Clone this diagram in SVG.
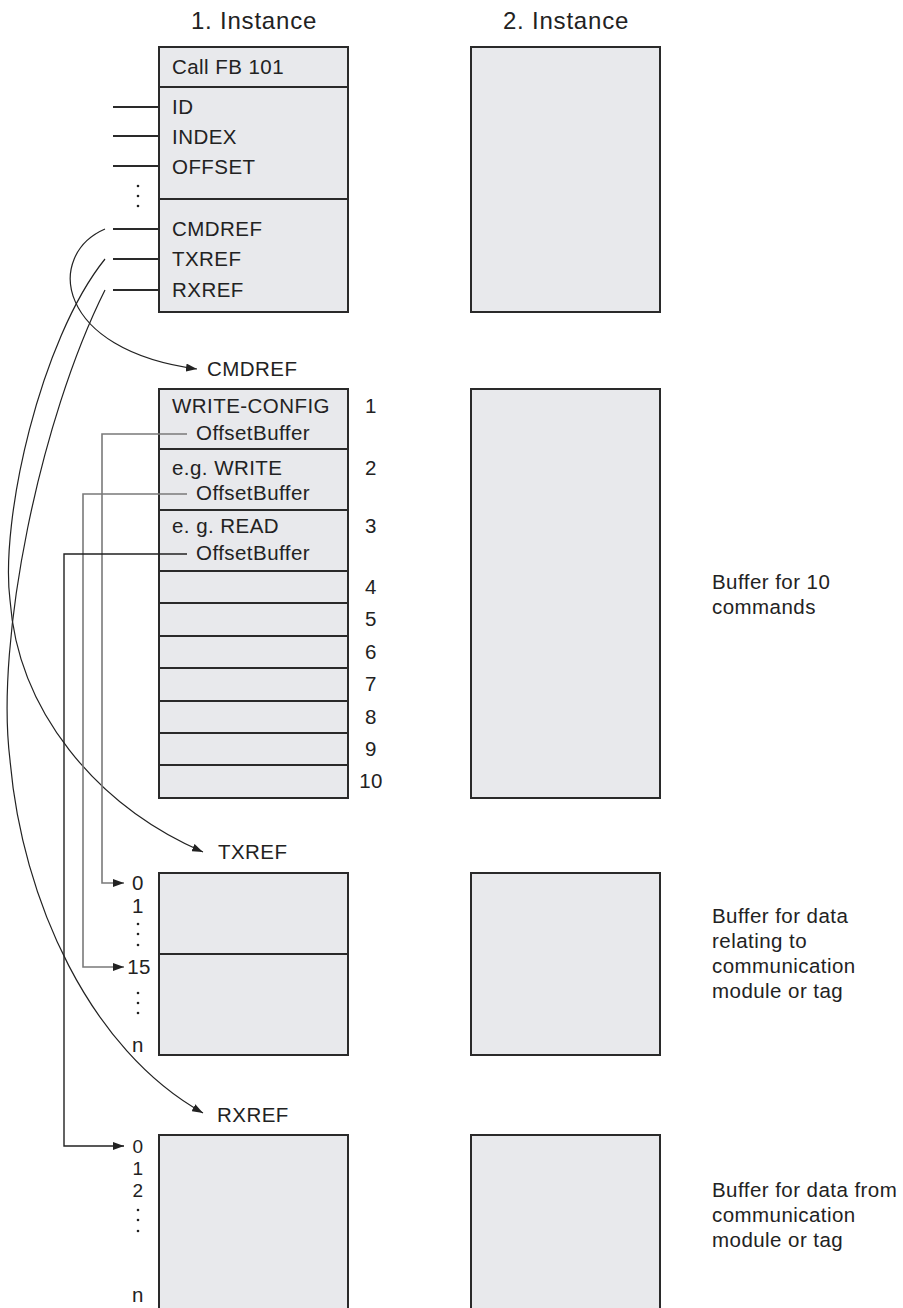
<svg xmlns="http://www.w3.org/2000/svg" width="903" height="1308" viewBox="0 0 903 1308">
<style>
text{font-family:"Liberation Sans",Arial,sans-serif;fill:#222;font-size:20.5px;letter-spacing:0.45px}
.title{font-size:24px;letter-spacing:0.8px;text-anchor:middle}
.num{text-anchor:middle}
.sm{font-size:19px}
.box{fill:#e8e9ec;stroke:#2a2a2a;stroke-width:2}
.div{stroke:#2a2a2a;stroke-width:2;fill:none}
.pin{stroke:#2a2a2a;stroke-width:2;fill:none}
.curve{stroke:#222;stroke-width:1.2;fill:none}
.lead{stroke:#7a7a7a;stroke-width:1.6;fill:none}
.leadk{stroke:#222;stroke-width:1.4;fill:none}
.dot{fill:#222}
</style>
<defs>
<marker id="ah" markerUnits="userSpaceOnUse" markerWidth="11" markerHeight="8" refX="11" refY="4" orient="auto">
<path d="M0,0 L11,4 L0,8 z" fill="#222"/>
</marker>
</defs>

<text class="title" x="254" y="29">1. Instance</text>
<text class="title" x="566" y="29">2. Instance</text>

<g id="fb-call">
<rect class="box" x="159" y="47" width="189" height="265"/>
<line class="div" x1="159" y1="87" x2="348" y2="87"/>
<line class="div" x1="159" y1="199" x2="348" y2="199"/>
<text x="172" y="74">Call FB 101</text>
<text x="172" y="114">ID</text>
<text x="172" y="144">INDEX</text>
<text x="172" y="174">OFFSET</text>
<text x="172" y="236">CMDREF</text>
<text x="172" y="266">TXREF</text>
<text x="172" y="297">RXREF</text>
<line class="pin" x1="113" y1="107" x2="159" y2="107"/>
<line class="pin" x1="113" y1="136" x2="159" y2="136"/>
<line class="pin" x1="113" y1="166" x2="159" y2="166"/>
<line class="pin" x1="113" y1="229" x2="159" y2="229"/>
<line class="pin" x1="113" y1="259" x2="159" y2="259"/>
<line class="pin" x1="113" y1="290" x2="159" y2="290"/>
<circle class="dot" cx="138" cy="186" r="1.3"/>
<circle class="dot" cx="138" cy="196" r="1.3"/>
<circle class="dot" cx="138" cy="206" r="1.3"/>
</g>

<g id="cmd-buffer">
<text x="207" y="376">CMDREF</text>
<rect class="box" x="159" y="389" width="189" height="409"/>
<line class="div" x1="159" y1="449" x2="348" y2="449"/>
<line class="div" x1="159" y1="510" x2="348" y2="510"/>
<line class="div" x1="159" y1="571" x2="348" y2="571"/>
<line class="div" x1="159" y1="603" x2="348" y2="603"/>
<line class="div" x1="159" y1="636" x2="348" y2="636"/>
<line class="div" x1="159" y1="668" x2="348" y2="668"/>
<line class="div" x1="159" y1="701" x2="348" y2="701"/>
<line class="div" x1="159" y1="733" x2="348" y2="733"/>
<line class="div" x1="159" y1="765" x2="348" y2="765"/>
<text x="172" y="413">WRITE-CONFIG</text>
<text x="196" y="440">OffsetBuffer</text>
<text x="172" y="475">e.g. WRITE</text>
<text x="196" y="500">OffsetBuffer</text>
<text x="172" y="533">e. g. READ</text>
<text x="196" y="560">OffsetBuffer</text>
<text class="num" x="371" y="413">1</text>
<text class="num" x="371" y="475">2</text>
<text class="num" x="371" y="533">3</text>
<text class="num" x="371" y="594">4</text>
<text class="num" x="371" y="626">5</text>
<text class="num" x="371" y="659">6</text>
<text class="num" x="371" y="691">7</text>
<text class="num" x="371" y="724">8</text>
<text class="num" x="371" y="756">9</text>
<text class="num" x="371" y="788">10</text>
</g>

<g id="tx-buffer">
<text x="218" y="859">TXREF</text>
<rect class="box" x="159" y="873" width="189" height="182"/>
<line class="div" x1="159" y1="954" x2="348" y2="954"/>
<text class="num" x="138" y="890">0</text>
<text class="num" x="138" y="913">1</text>
<circle class="dot" cx="138" cy="924" r="1.3"/>
<circle class="dot" cx="138" cy="934" r="1.3"/>
<circle class="dot" cx="138" cy="945" r="1.3"/>
<text class="num" x="139" y="974">15</text>
<circle class="dot" cx="138" cy="993" r="1.3"/>
<circle class="dot" cx="138" cy="1003" r="1.3"/>
<circle class="dot" cx="138" cy="1013" r="1.3"/>
<text class="num" x="138" y="1052">n</text>
</g>

<g id="rx-buffer">
<text x="217" y="1122">RXREF</text>
<rect class="box" x="159" y="1135" width="189" height="190"/>
<text class="num sm" x="138" y="1153">0</text>
<text class="num sm" x="138" y="1175">1</text>
<text class="num sm" x="138" y="1197">2</text>
<circle class="dot" cx="138" cy="1210" r="1.3"/>
<circle class="dot" cx="138" cy="1220" r="1.3"/>
<circle class="dot" cx="138" cy="1231" r="1.3"/>
<text class="num" x="138" y="1302">n</text>
</g>

<g id="instance2">
<rect class="box" x="471" y="47" width="189" height="265"/>
<rect class="box" x="471" y="389" width="189" height="409"/>
<rect class="box" x="471" y="873" width="189" height="182"/>
<rect class="box" x="471" y="1135" width="189" height="190"/>
</g>

<g id="notes">
<text x="712" y="589">Buffer for 10</text>
<text x="712" y="614">commands</text>
<text x="712" y="923">Buffer for data</text>
<text x="712" y="948">relating to</text>
<text x="712" y="973">communication</text>
<text x="712" y="998">module or tag</text>
<text x="712" y="1197">Buffer for data from</text>
<text x="712" y="1222">communication</text>
<text x="712" y="1247">module or tag</text>
</g>

<g id="connectors">
<path class="curve" d="M105,229 C45,255 55,350 197,369" marker-end="url(#ah)"/>
<path class="curve" d="M105,259 C40,340 0,520 10,600 C18,710 95,805 203,852" marker-end="url(#ah)"/>
<path class="curve" d="M105,290 C40,420 -5,640 10,760 C22,900 90,1050 203,1113" marker-end="url(#ah)"/>
<path class="lead" d="M187,434 H102 V883 H124" marker-end="url(#ah)"/>
<path class="lead" d="M187,494 H83 V967 H124" marker-end="url(#ah)"/>
<path class="leadk" d="M187,554 H64 V1146 H124" marker-end="url(#ah)"/>
</g>
</svg>
